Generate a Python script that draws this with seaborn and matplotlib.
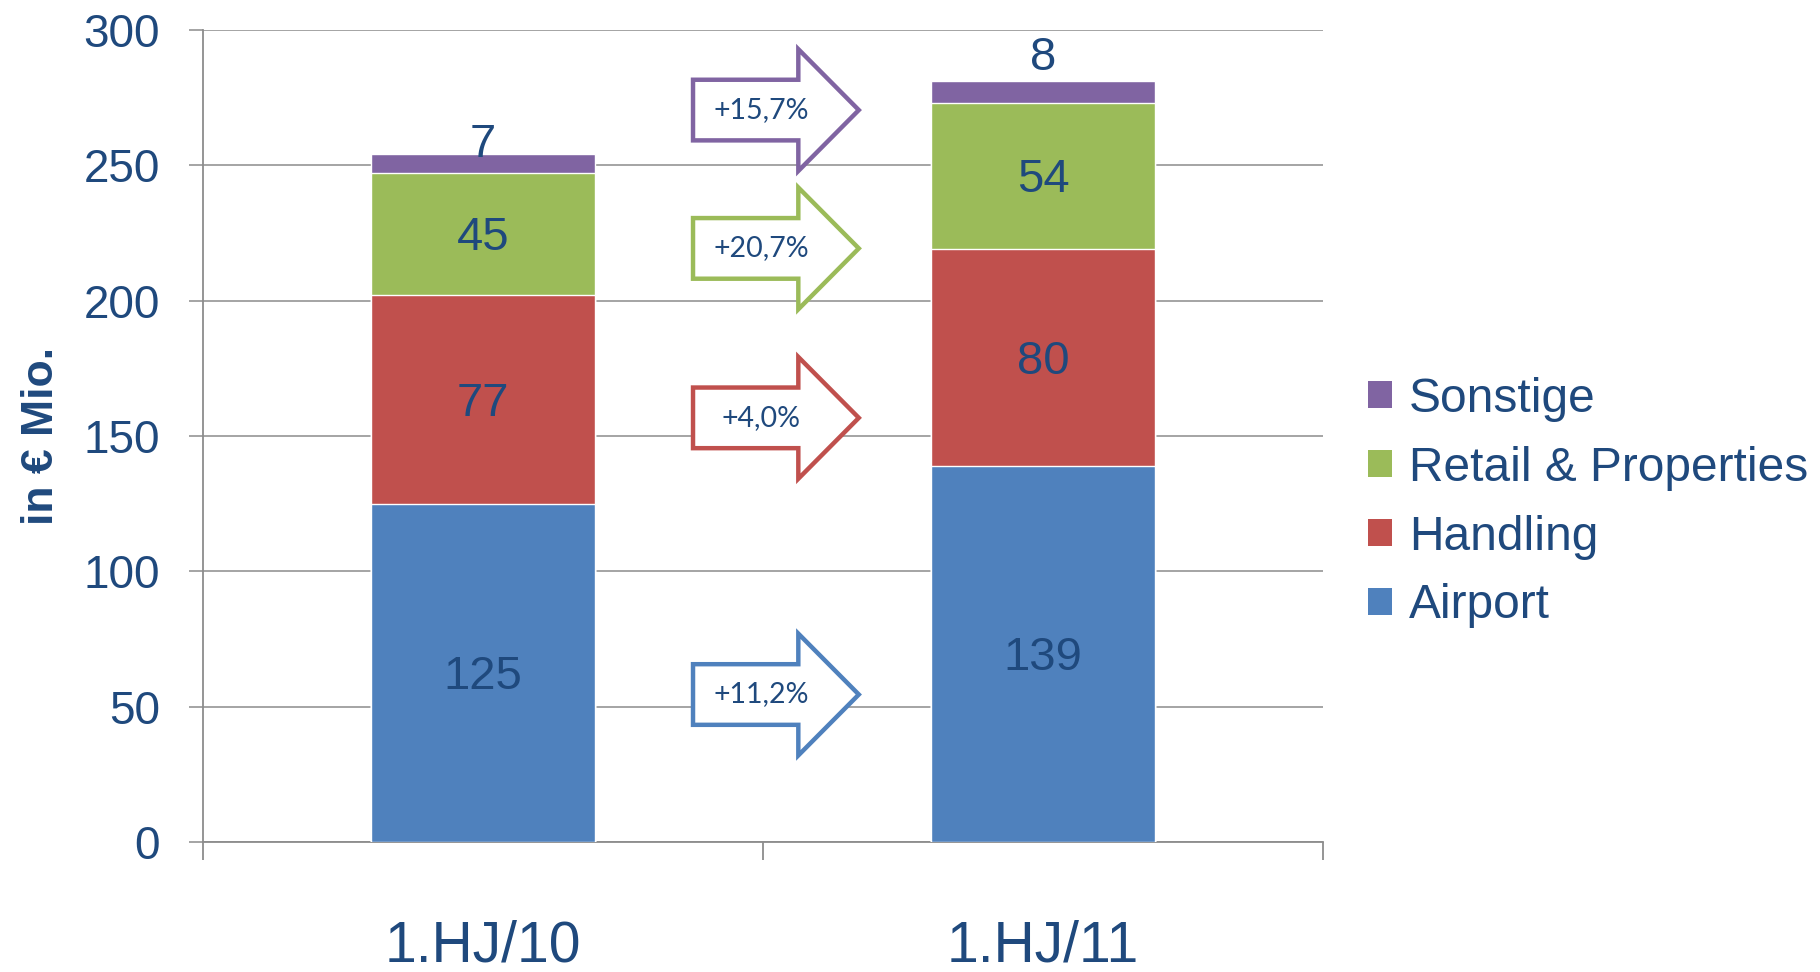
"""
Umsatz nach Segmenten, 1.HJ/10 vs. 1.HJ/11 (stacked bars with growth arrows).
"""

import matplotlib

matplotlib.use("Agg")

import matplotlib.pyplot as plt
import pandas as pd
import seaborn as sns
from matplotlib.patches import Patch, Polygon

# --------------------------------------------------------------------------- #
# Data
# --------------------------------------------------------------------------- #
periods = ["1.HJ/10", "1.HJ/11"]
segments = ["Airport", "Handling", "Retail & Properties", "Sonstige"]
airport = [125, 139]
handling = [77, 80]
retail = [45, 54]
sonstige = [7, 8]
growth_labels = ["+11,2%", "+4,0%", "+20,7%", "+15,7%"]

# --------------------------------------------------------------------------- #
# Styling / layout
# --------------------------------------------------------------------------- #
COLORS = {
    "Airport": "#4F81BD",
    "Handling": "#C0504D",
    "Retail & Properties": "#9BBB59",
    "Sonstige": "#8064A2",
}
TEXT = "#1F497D"
GRID = "#8C8C8C"
ARROW_Y = [54.5, 156.7, 219.3, 270.4]   # vertical centre of each growth arrow
TOP_LABEL_OFFSET = [3.5, 8.5]           # gap above the bar for the top label
LABEL_NUDGE = -1.5                      # optical centring of segment labels

sns.set_style("white")
plt.rcParams["font.family"] = ["Liberation Sans", "DejaVu Sans"]

values = pd.DataFrame(
    {"Airport": airport, "Handling": handling,
     "Retail & Properties": retail, "Sonstige": sonstige},
    index=periods,
)
cum = values.cumsum(axis=1)

fig = plt.figure(figsize=(18.2, 9.72), dpi=100)
ax = fig.add_axes([0.1115, 0.1337, 0.6155, 0.8355])

# draw stacked bars by overlaying cumulative totals, tallest first
for seg in reversed(segments):
    df = pd.DataFrame({"period": periods, "value": cum[seg].values})
    sns.barplot(data=df, x="period", y="value", color=COLORS[seg],
                width=0.4, saturation=1, ax=ax, zorder=3)

# segment labels
for i, period in enumerate(periods):
    bottom = 0
    for seg in segments[:-1]:
        v = values.loc[period, seg]
        ax.text(i, bottom + v / 2 + LABEL_NUDGE, f"{v}", ha="center",
                va="center", fontsize=34, color=TEXT, zorder=5)
        bottom += v
    v = values.loc[period, "Sonstige"]
    ax.text(i, bottom + v + TOP_LABEL_OFFSET[i], f"{v}", ha="center",
            va="center", fontsize=34, color=TEXT, zorder=5)


def block_arrow(ax, yc, color, label):
    x0, x1, tip = 0.375, 0.563, 0.671
    bh, hh = 11.2, 22.5
    pts = [(x0, yc - bh), (x1, yc - bh), (x1, yc - hh), (tip, yc),
           (x1, yc + hh), (x1, yc + bh), (x0, yc + bh)]
    ax.add_patch(Polygon(pts, closed=True, facecolor="white", edgecolor=color,
                         linewidth=3.2, zorder=4, joinstyle="miter"))
    ax.text(0.497, yc, label, ha="center", va="center", fontsize=20.5,
            color=TEXT, family=["Lato", "DejaVu Sans"], zorder=5)


for seg, yc, lab in zip(segments, ARROW_Y, growth_labels):
    block_arrow(ax, yc, COLORS[seg], lab)

# axes
ax.set_xlim(-0.5, 1.5)
ax.set_ylim(0, 300)
ax.set_yticks(range(0, 301, 50))
ax.yaxis.grid(True, color=GRID, linewidth=1.1, zorder=0)
ax.set_axisbelow(True)
for side in ["top", "right"]:
    ax.spines[side].set_visible(False)
for side in ["left", "bottom"]:
    ax.spines[side].set_color(GRID)
    ax.spines[side].set_linewidth(1.3)

ax.tick_params(axis="y", length=10, width=1.1, color=GRID, pad=21,
               labelsize=33, labelcolor=TEXT, left=True)
ax.set_xticks([-0.5, 0.5, 1.5], minor=True)
ax.tick_params(axis="x", which="minor", length=13, width=1.3, color=GRID,
               bottom=True)
ax.tick_params(axis="x", which="major", length=0, pad=56, labelsize=41,
               labelcolor=TEXT)
ax.set_xlabel("")
ax.set_ylabel("in € Mio.", fontsize=32, fontweight="bold", color=TEXT)
ax.yaxis.set_label_coords(-0.126, 0.5)

handles = [Patch(facecolor=COLORS[s], edgecolor="none", label=s)
           for s in reversed(segments)]
fig.legend(handles=handles, loc="center left", bbox_to_anchor=(0.728, 0.483),
           frameon=False, fontsize=34.5, labelcolor=TEXT, handlelength=0.5,
           handleheight=0.5, handletextpad=0.35, labelspacing=0.5)

fig.savefig("out.png", dpi=100)
